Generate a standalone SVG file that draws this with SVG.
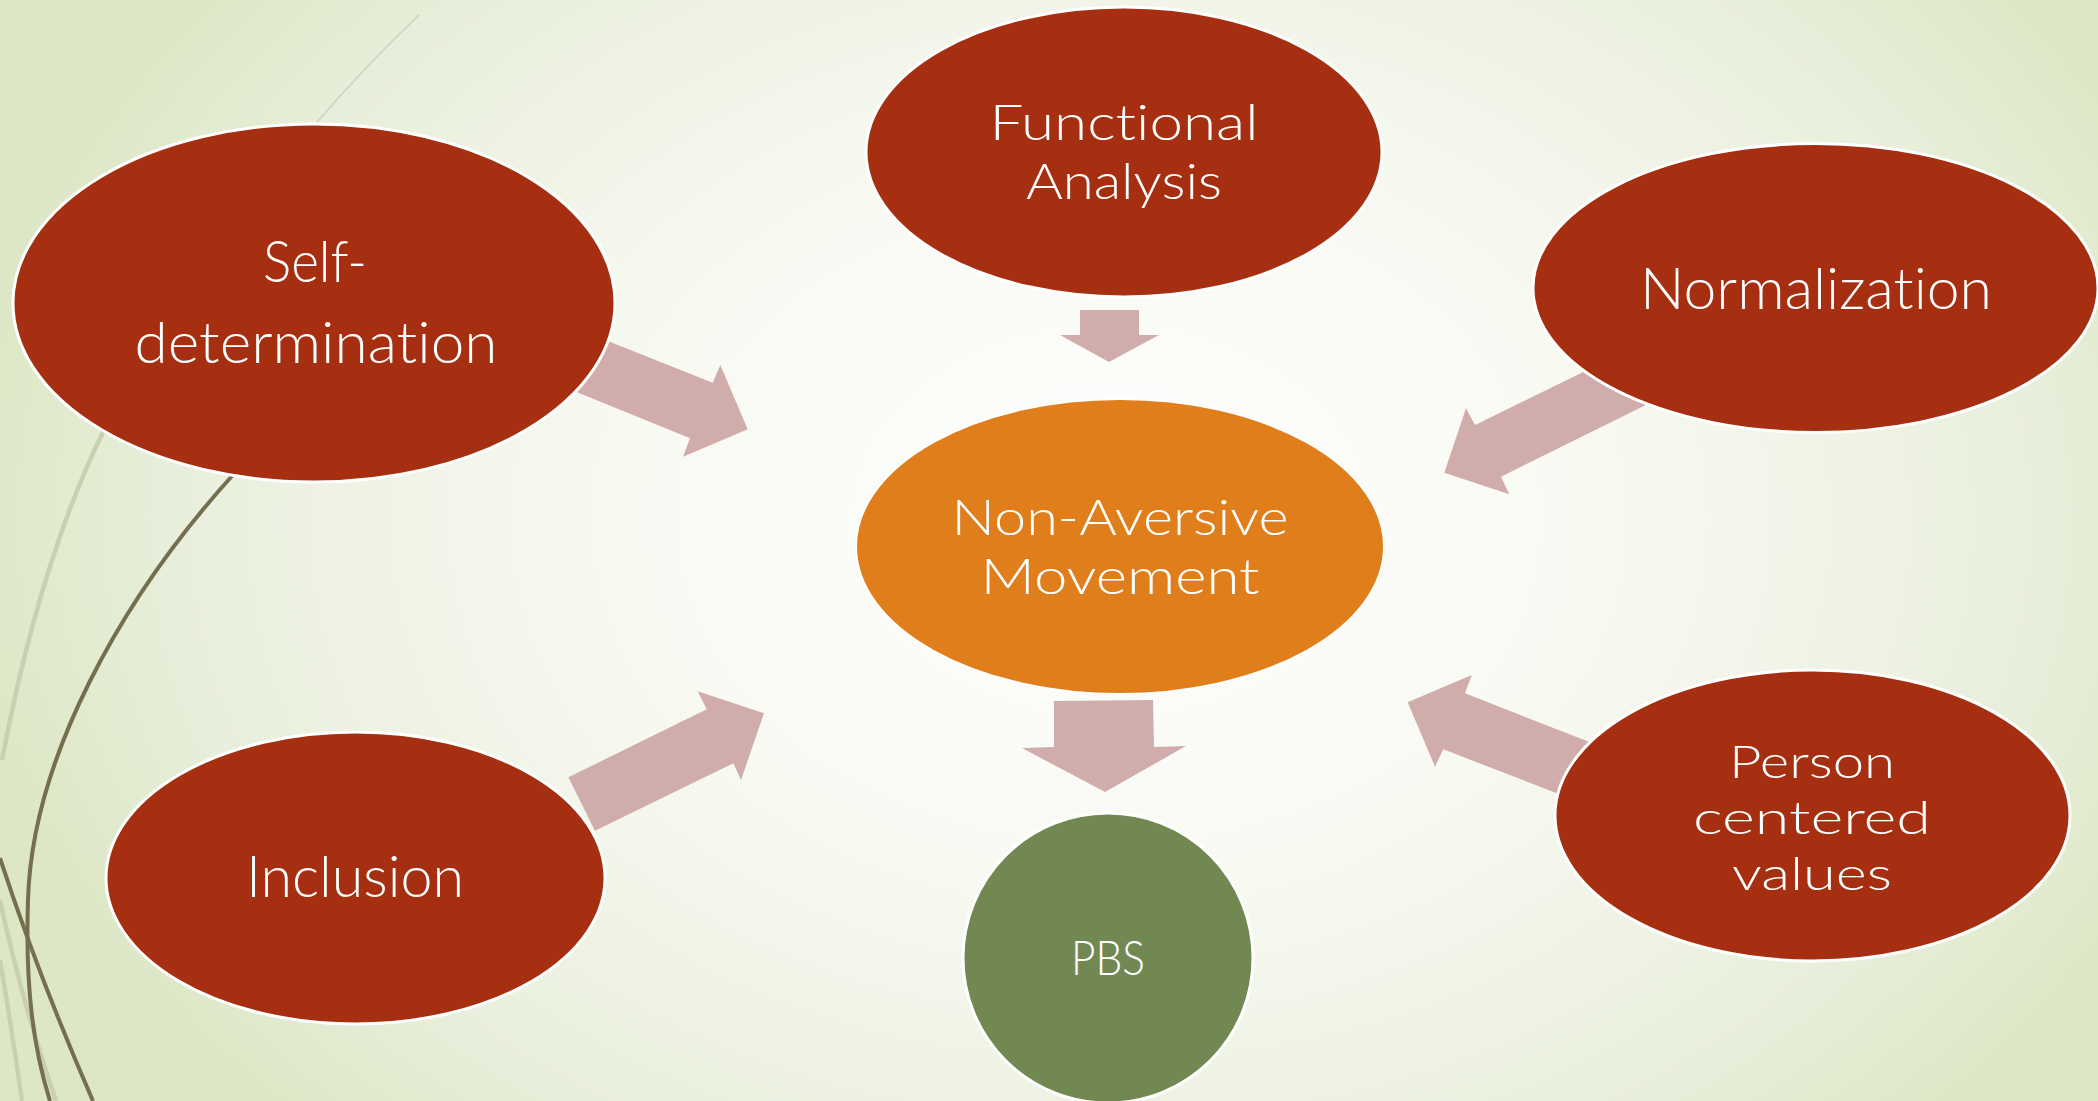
<svg xmlns="http://www.w3.org/2000/svg" width="2098" height="1101" viewBox="0 0 2098 1101">
  <defs>
    <radialGradient id="bg" gradientUnits="userSpaceOnUse" cx="1110" cy="520" r="1150" gradientTransform="translate(1110 520) scale(1 0.75) translate(-1110 -520)">
      <stop offset="0" stop-color="#ffffff"/>
      <stop offset="0.45" stop-color="#f7f9f1"/>
      <stop offset="0.8" stop-color="#e9efdc"/>
      <stop offset="1" stop-color="#dde7c6"/>
    </radialGradient>
    <style>
      .red { fill: #a52f10; stroke: #ffffff; stroke-width: 3; }
      .orange { fill: #df7e1a; stroke: #ffffff; stroke-width: 2; }
      .green { fill: #728853; stroke: #ffffff; stroke-width: 3; }
      .arrow { fill: #d0adab; }
      .lbl { font-family: Lato, "Open Sans", "Liberation Sans", sans-serif; font-weight: 300; font-size: 57px; fill: #ffffff; text-anchor: middle; font-variant-ligatures: none; }
      .mid { font-size: 49px; }
      .tight { font-size: 46px; }
      .small { font-size: 48px; }
      .deco-dark { fill: none; stroke: #756e4f; stroke-width: 4; }
      .deco-light { fill: none; stroke: #c9d0b2; stroke-width: 4.5; }
      .deco-thin { fill: none; stroke: #cdd2c0; stroke-width: 1.5; }
    </style>
  </defs>

  <rect x="0" y="0" width="2098" height="1101" fill="url(#bg)"/>

  <g id="decoration">
    <path class="deco-thin" d="M 419 15 Q 365 66 312 128"/>
    <path class="deco-light" d="M 104 430 Q 40 560 2 760"/>
    <path class="deco-light" d="M 0 900 C 15 970 35 1040 56 1101"/>
    <path class="deco-light" d="M 0 960 Q 12 1030 22 1101"/>
    <path class="deco-dark" d="M 232 476 C 120 600 32 760 28 900 C 25 990 34 1050 50 1101"/>
    <path class="deco-dark" d="M 0 858 C 30 950 62 1030 93 1101"/>
  </g>

  <g id="connectors">
    <polygon class="arrow" points="1080,310 1139,310 1139,335 1159,335 1109,362 1060,335 1080,335"/>
    <polygon class="arrow" points="1054,701 1153,700 1154,747 1186,746 1105,792 1022,748 1054,747"/>
    <polygon class="arrow" points="574.6,327.8 712.7,382.7 720.3,365 747.7,429.3 683,456.7 690,438.3 544.6,379"/>
    <polygon class="arrow" points="568.3,777.3 706.7,709.3 697.7,691.3 764,713.3 741,780 733.3,763.3 595,830.7"/>
    <polygon class="arrow" points="1616.6,355.7 1475,425 1466,408.3 1444.3,472.7 1509.3,494.3 1501,476.7 1678.2,389.1"/>
    <polygon class="arrow" points="1624,755.6 1465,693.3 1471.7,675 1407.7,702.3 1435,766.7 1443.3,749.3 1592.2,806.9"/>
  </g>

  <g id="node-functional-analysis">
    <ellipse class="red" cx="1124" cy="152" rx="258" ry="145"/>
    <text class="lbl mid"><tspan x="1124" y="140" textLength="269" lengthAdjust="spacingAndGlyphs">Functional</tspan><tspan x="1124" y="199" textLength="196" lengthAdjust="spacingAndGlyphs">Analysis</tspan></text>
  </g>

  <g id="node-self-determination">
    <ellipse class="red" cx="314" cy="303" rx="301" ry="179"/>
    <text class="lbl"><tspan x="315" y="282" textLength="104" lengthAdjust="spacingAndGlyphs">Self-</tspan><tspan x="316" y="363" textLength="363" lengthAdjust="spacingAndGlyphs">determination</tspan></text>
  </g>

  <g id="node-normalization">
    <ellipse class="red" cx="1815.5" cy="288" rx="282.5" ry="144.5"/>
    <text class="lbl" x="1816" y="309" textLength="352" lengthAdjust="spacingAndGlyphs">Normalization</text>
  </g>

  <g id="node-non-aversive">
    <ellipse class="orange" cx="1120" cy="546.5" rx="264" ry="147.5"/>
    <text class="lbl mid"><tspan x="1120" y="535" textLength="337" lengthAdjust="spacingAndGlyphs">Non-Aversive</tspan><tspan x="1120" y="594" textLength="279" lengthAdjust="spacingAndGlyphs">Movement</tspan></text>
  </g>

  <g id="node-inclusion">
    <ellipse class="red" cx="355.5" cy="878" rx="249.5" ry="146"/>
    <text class="lbl" x="355" y="897" textLength="218" lengthAdjust="spacingAndGlyphs">Inclusion</text>
  </g>

  <g id="node-person-centered">
    <ellipse class="red" cx="1812.5" cy="815.5" rx="257.5" ry="145.5"/>
    <text class="lbl tight"><tspan x="1812" y="778" textLength="166" lengthAdjust="spacingAndGlyphs">Person</tspan><tspan x="1812" y="834" textLength="238" lengthAdjust="spacingAndGlyphs">centered</tspan><tspan x="1812" y="890" textLength="160" lengthAdjust="spacingAndGlyphs">values</tspan></text>
  </g>

  <g id="node-pbs">
    <circle class="green" cx="1108" cy="958" r="145"/>
    <text class="lbl small" x="1108" y="975" textLength="74" lengthAdjust="spacingAndGlyphs">PBS</text>
  </g>
</svg>
